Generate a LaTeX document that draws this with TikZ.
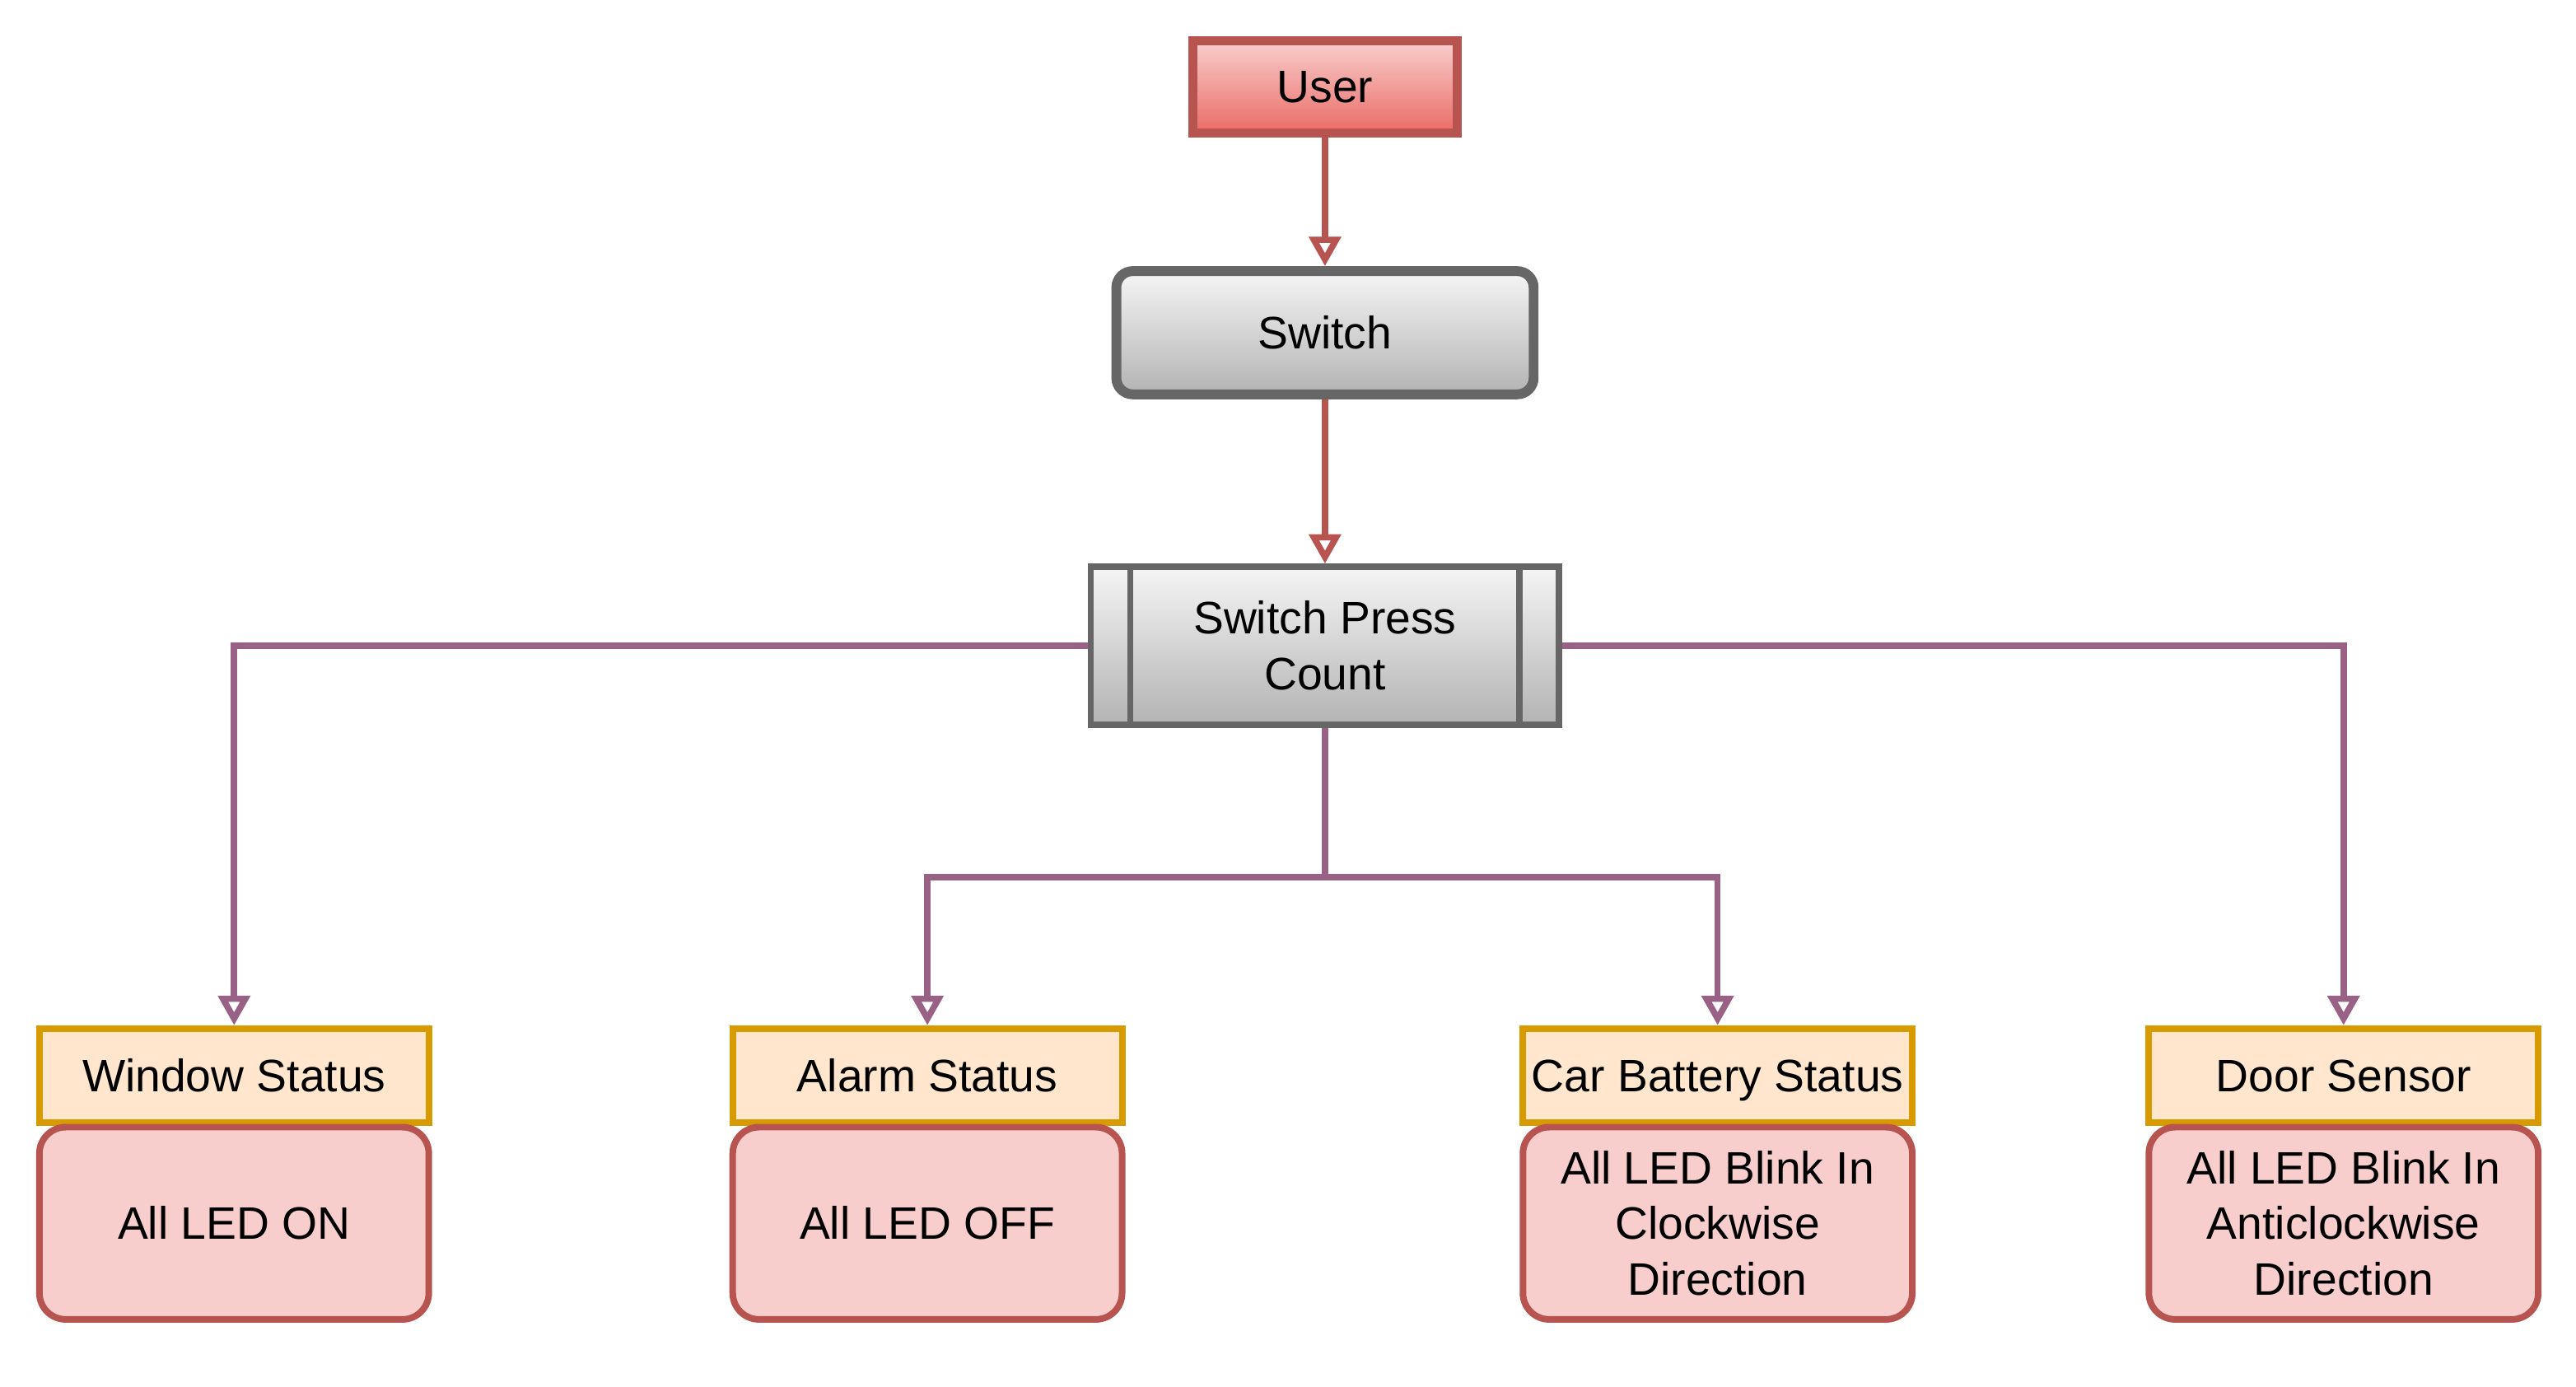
\documentclass[tikz,border=0pt]{standalone}
\usepackage{fontspec}
\setmainfont{Liberation Sans}
\usepackage{tikz}
\usetikzlibrary{arrows.meta}
\definecolor{usrline}{HTML}{B85450}
\definecolor{usrtop}{HTML}{F8CECC}
\definecolor{usrbot}{HTML}{EA6B66}
\definecolor{grayline}{HTML}{666666}
\definecolor{graytop}{HTML}{F5F5F5}
\definecolor{graybot}{HTML}{B3B3B3}
\definecolor{stline}{HTML}{D79B00}
\definecolor{stfill}{HTML}{FFE6CC}
\definecolor{ledfill}{HTML}{F8CECC}
\definecolor{purple}{HTML}{996185}
\tikzset{t/.style={font=\fontsize{13.85}{17}\selectfont, align=center, inner sep=0pt}}
\tikzset{userbox/.style={t, draw=usrline, line width=2.8pt, top color=usrtop, bottom color=usrbot,
  minimum width=80.5pt, minimum height=28pt}}
\tikzset{switchbox/.style={t, draw=grayline, line width=3pt, rounded corners=5pt, top color=graytop,
  bottom color=graybot, minimum width=127pt, minimum height=37.5pt}}
\tikzset{countbox/.style={t, draw=grayline, line width=1.9pt, top color=graytop, bottom color=graybot,
  minimum width=142.5pt, minimum height=48pt}}
\tikzset{statusbox/.style={font=\fontsize{13.85}{17}\selectfont, inner sep=0pt, text height=9.9pt, text depth=0pt,
  draw=stline, fill=stfill, line width=2pt, minimum width=118.5pt, minimum height=28.5pt}}
\tikzset{ledbox/.style={t, draw=usrline, fill=ledfill, line width=2pt, rounded corners=8pt,
  minimum width=118.5pt, minimum height=58.5pt}}
\tikzset{into/.style={{Triangle[length=9pt, width=9.5pt, fill=white]}-}}
\tikzset{redflow/.style={draw=usrline, line width=1.9pt}}
\tikzset{purpleflow/.style={draw=purple, line width=1.9pt, -{Triangle[length=9pt, width=9.5pt, fill=white]}}}

\begin{document}
\begin{tikzpicture}[x=0.5pt, y=-0.5pt]
    \useasboundingbox (0,0) rectangle (1568,844);
    \node[userbox] (usr) at (806.5,53) {User};
    \node[switchbox] (sw) at (806.5,202.5) {Switch}
      edge [redflow, into] (usr);
    \node[countbox] (spc) at (806.5,393) {Switch Press\\Count}
      edge [redflow, into] (sw);
    \draw[grayline, line width=1.9pt] ([xshift=13pt]spc.north west) -- ([xshift=13pt]spc.south west);
    \draw[grayline, line width=1.9pt] ([xshift=-13pt]spc.north east) -- ([xshift=-13pt]spc.south east);
    \node[statusbox] (win) at (142.5,654.5) {Window Status};
    \node[statusbox] (alarm) at (564.5,654.5) {Alarm Status};
    \node[statusbox] (batt) at (1045.5,654.5) {Car Battery Status};
    \node[statusbox] (door) at (1426.5,654.5) {Door Sensor};
    \node[ledbox] (on) at (142.5,744.5) {All LED ON};
    \node[ledbox] (off) at (564.5,744.5) {All LED OFF};
    \node[ledbox] (cw) at (1045.5,744.5) {All LED Blink In\\Clockwise\\Direction};
    \node[ledbox] (acw) at (1426.5,744.5) {All LED Blink In\\Anticlockwise\\Direction};
    \coordinate (split) at (806.5,534);
    \draw[purpleflow] (spc.west) -| (win.north);
    \draw[purpleflow] (spc.east) -| (door.north);
    \draw[purpleflow] (spc.south) -- (split) -| (alarm.north);
    \draw[purpleflow] (split) -| (batt.north);
\end{tikzpicture}
\end{document}
